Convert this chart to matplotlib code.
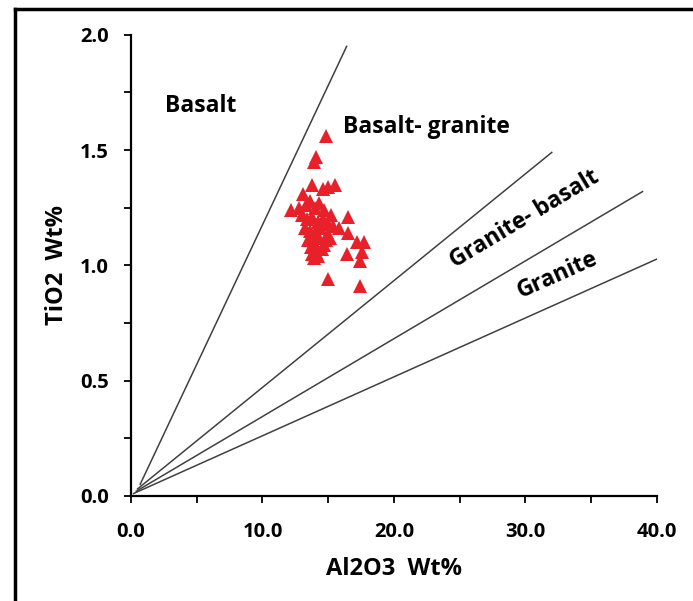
import matplotlib
matplotlib.use('Agg')
import matplotlib.pyplot as plt
from matplotlib.lines import Line2D
from matplotlib.ticker import MultipleLocator

plt.rcParams['font.family'] = ['Open Sans', 'DejaVu Sans']

# sample data (Al2O3, TiO2 in wt%)
al2o3 = [14.8, 13.9, 14.1, 13.8, 15.0, 15.5, 14.6, 13.1, 12.2, 12.8, 13.3, 13.6,
         14.0, 14.3, 14.7, 15.2, 13.0, 13.4, 13.8, 14.2, 14.6, 15.0, 15.4, 13.2,
         13.6, 14.0, 14.4, 14.9, 13.5, 13.9, 14.3, 14.7, 15.1, 13.7, 14.1, 14.5,
         16.5, 16.5, 17.7, 17.2, 16.4, 17.4, 17.6, 13.9, 14.2, 15.0, 17.4, 15.8,
         14.8, 13.8]
tio2 = [1.56, 1.45, 1.47, 1.35, 1.34, 1.35, 1.33, 1.31, 1.24, 1.25, 1.26, 1.28,
        1.25, 1.27, 1.24, 1.22, 1.22, 1.20, 1.21, 1.19, 1.20, 1.18, 1.17, 1.16,
        1.15, 1.14, 1.16, 1.13, 1.11, 1.10, 1.12, 1.09, 1.12, 1.08, 1.06, 1.07,
        1.21, 1.14, 1.10, 1.10, 1.05, 1.02, 1.06, 1.03, 1.04, 0.94, 0.91, 1.16,
        1.11, 1.05]

# field boundary lines: start (x, y) -> end (x, y)
boundaries = [((0.7, 0.05), (16.4, 1.95)),
              ((0.5, 0.03), (32.0, 1.49)),
              ((0.4, 0.02), (38.9, 1.32)),
              ((0.2, 0.01), (40.1, 1.03))]

fig = plt.figure(figsize=(6.93, 6.01), dpi=100)
ax = fig.add_axes([0.189, 0.175, 0.759, 0.767])

for (x0, y0), (x1, y1) in boundaries:
    ax.plot([x0, x1], [y0, y1], color='#404040', lw=1.1, zorder=1)

ax.plot(al2o3, tio2, linestyle='none', marker='^', markersize=9.5,
        color='#e8202a', markeredgewidth=0, zorder=3)

ax.text(2.6, 1.69, 'Basalt', fontsize=16.5, fontweight='bold', va='center', ha='left')
ax.text(16.1, 1.60, 'Basalt- granite', fontsize=16.5, fontweight='bold', va='center', ha='left')
ax.text(29.9, 1.20, 'Granite- basalt', fontsize=16.5, fontweight='bold', va='center',
        ha='center', rotation=31, rotation_mode='anchor')
ax.text(32.4, 0.96, 'Granite', fontsize=16.5, fontweight='bold', va='center',
        ha='center', rotation=24, rotation_mode='anchor')

ax.set_xlim(0, 40)
ax.set_ylim(0, 2.0)
ax.xaxis.set_major_locator(MultipleLocator(10))
ax.xaxis.set_minor_locator(MultipleLocator(5))
ax.yaxis.set_major_locator(MultipleLocator(0.5))
ax.yaxis.set_minor_locator(MultipleLocator(0.25))
ax.xaxis.set_major_formatter(lambda v, p: f'{v:.1f}')
ax.yaxis.set_major_formatter(lambda v, p: f'{v:.1f}')

for s in ['top', 'right']:
    ax.spines[s].set_visible(False)
for s in ['left', 'bottom']:
    ax.spines[s].set_linewidth(1.6)

ax.tick_params(which='both', direction='out', width=1.3, length=5)
ax.tick_params(axis='y', pad=11, labelsize=14.5)
ax.tick_params(axis='x', pad=14, labelsize=14.5)
for lab in ax.get_xticklabels() + ax.get_yticklabels():
    lab.set_fontweight('bold')

ax.set_xlabel('Al2O3  Wt%', fontsize=17, fontweight='bold', labelpad=11)
ax.set_ylabel('TiO2  Wt%', fontsize=17, fontweight='bold', labelpad=8)

# frame on left and top of the figure
fig.add_artist(Line2D([0.022, 0.022], [0, 0.985], color='black', lw=2.5, transform=fig.transFigure))
fig.add_artist(Line2D([0.022, 1.0], [0.985, 0.985], color='black', lw=2.5, transform=fig.transFigure))

fig.savefig('out.png', dpi=100)
